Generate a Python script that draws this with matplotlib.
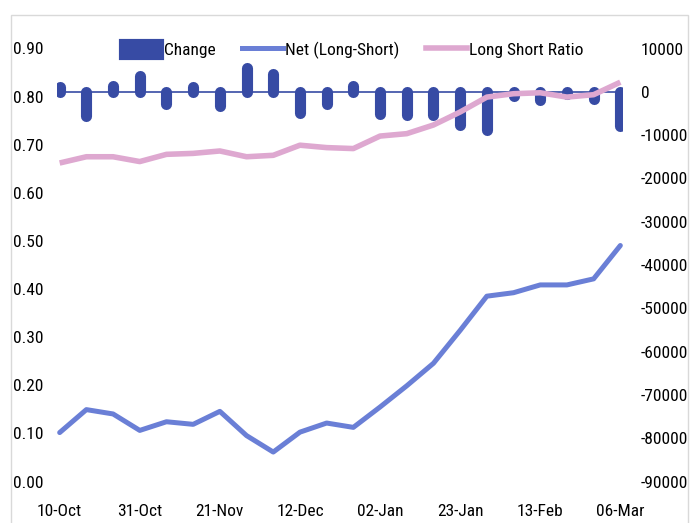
import matplotlib
matplotlib.use("Agg")
import matplotlib.pyplot as plt
from matplotlib import font_manager
from matplotlib.font_manager import FontProperties
from matplotlib.textpath import TextPath
from matplotlib.patches import Patch, Rectangle
from matplotlib.lines import Line2D
import numpy as np

weeks = ['10-Oct', '17-Oct', '24-Oct', '31-Oct', '07-Nov', '14-Nov', '21-Nov',
         '28-Nov', '05-Dec', '12-Dec', '19-Dec', '26-Dec', '02-Jan', '09-Jan',
         '16-Jan', '23-Jan', '30-Jan', '06-Feb', '13-Feb', '20-Feb', '27-Feb',
         '06-Mar']

change = [1000, -5500, 1300, 3700, -2800, 1000, -3300, 5500, 4100, -5000,
          -2800, 1300, -5100, -5400, -5400, -7600, -8800, -900, -1900, -400,
          -1700, -7800]

net = [-78700, -73400, -74400, -78200, -76200, -76800, -73800, -79400, -83200,
       -78600, -76500, -77500, -72800, -67900, -62700, -55100, -47200, -46400,
       -44600, -44600, -43200, -35500]

ratio = [0.662, 0.675, 0.675, 0.665, 0.680, 0.682, 0.687, 0.675, 0.678, 0.699,
         0.694, 0.692, 0.718, 0.723, 0.741, 0.768, 0.799, 0.806, 0.808, 0.799,
         0.804, 0.830]

C_BAR = '#374BA4'
C_NET = '#6A7FD6'
C_RATIO = '#DEA8D0'

# Prefer a narrow sans face; fall back to Lato
installed = {f.name for f in font_manager.fontManager.ttflist}
family = next((n for n in ['Liberation Sans Narrow', 'Roboto Condensed',
                           'Open Sans Condensed', 'Lato'] if n in installed),
              'DejaVu Sans')
plt.rcParams['font.family'] = [family, 'DejaVu Sans']

# Size the text so a five-digit tick label is about 42 px wide
w1 = TextPath((0, 0), '10000', size=1, prop=FontProperties(family=family)).get_extents().width
FS = min(12.5, 42 / (w1 * 100 / 72))

W, H = 690, 523
fig = plt.figure(figsize=(W / 100, H / 100), dpi=100)
fig.patches.append(Rectangle((11 / W, -0.01), (688 - 11) / W, 1.01 - 15 / H,
                             transform=fig.transFigure, fill=False,
                             edgecolor='#D9D9D9', linewidth=1))

left, right = 57, 623
top, bottom = 48.5, 481.5
ax = fig.add_axes([left / W, 1 - bottom / H, (right - left) / W, (bottom - top) / H])
ax2 = ax.twinx()

x = np.arange(len(weeks))

# Change bars (rounded ends) and net position on the right-hand axis
ax2.axhline(0, color=C_BAR, linewidth=1.2, zorder=1)
ax2.vlines(x, 0, change, colors=C_BAR, linewidth=8, capstyle='round', zorder=2)
ax2.plot(x, net, color=C_NET, linewidth=3.6, solid_capstyle='round',
         solid_joinstyle='round', zorder=3)
ax2.set_ylim(-90000, 10000)
ax2.set_yticks(np.arange(-90000, 10001, 10000))
ax2.set_yticklabels([f'{v:d}' for v in range(-90000, 10001, 10000)])

# Long/short ratio on the left-hand axis, drawn above the bars
ax.plot(x, ratio, color=C_RATIO, linewidth=4, solid_capstyle='butt',
        solid_joinstyle='round', zorder=3)
ax.set_ylim(0, 0.9)
ax.set_yticks(np.arange(0, 0.91, 0.1))
ax.set_yticklabels([f'{v:.2f}' for v in np.arange(0, 0.91, 0.1)])
ax.set_zorder(ax2.get_zorder() + 1)
ax.patch.set_visible(False)

ax.set_xlim(-0.1, 21.1)
ax.set_xticks(x[::3])
ax.set_xticklabels(weeks[::3])

for a in (ax, ax2):
    for s in a.spines.values():
        s.set_visible(False)
    a.tick_params(length=0, labelsize=FS, colors='#000000')
ax.tick_params(axis='y', pad=10)
ax.tick_params(axis='x', pad=16)
ax2.tick_params(axis='y', pad=13)

handles = [Patch(facecolor=C_BAR, edgecolor=C_BAR, linewidth=3, joinstyle='round'),
           Line2D([], [], color=C_NET, linewidth=3.6),
           Line2D([], [], color=C_RATIO, linewidth=4)]
labels = ['Change', 'Net (Long-Short)', 'Long Short Ratio']
fig.legend(handles, labels, loc='center', bbox_to_anchor=(352 / W, 1 - 50 / H),
           ncol=3, frameon=False, fontsize=FS, handlelength=2.4,
           handleheight=1.2, handletextpad=0.1, columnspacing=1.5,
           borderaxespad=0, borderpad=0)

fig.savefig('out.png', dpi=100)
